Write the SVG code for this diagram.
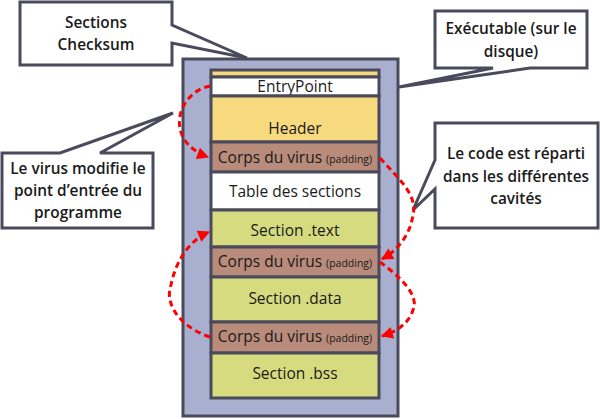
<svg xmlns="http://www.w3.org/2000/svg" width="600" height="419" viewBox="0 0 600 419">
<defs>
<style>
.frame{fill:#a8afcf;stroke:#4a4a5c;stroke-width:3}
.sec{stroke:#4a4a5c;stroke-width:3}
.yel{fill:#f8da7e}
.wht{fill:#ffffff}
.brn{fill:#b98b7a}
.grn{fill:#d6db7f}
.call{fill:#ffffff;stroke:#4a4a5c;stroke-width:3;stroke-linejoin:miter}
.t{font-family:"Open Sans","DejaVu Sans",sans-serif;font-size:15.5px;fill:#1a1a1a;text-anchor:middle}
.small{font-size:10.5px}
.ct{font-family:"Open Sans","DejaVu Sans",sans-serif;font-size:15.4px;font-weight:600;fill:#1a1a1a;text-anchor:middle}
.arr{fill:none;stroke:#ff0000;stroke-width:3;stroke-dasharray:6 4;marker-end:url(#ah)}
</style>
<marker id="ah" viewBox="0 0 10 10" refX="9" refY="5" markerWidth="4.5" markerHeight="4" orient="auto" markerUnits="strokeWidth">
<path d="M0,0 L10,5 L0,10 z" fill="#ff0000"/>
</marker>
</defs>
<g id="executable">
<rect class="frame" x="183" y="59" width="215" height="357"/>
</g>
<g id="top-strip"><rect class="sec yel" x="211" y="70" width="168" height="7"/></g>
<g id="entrypoint"><rect class="sec wht" x="211" y="77" width="168" height="19"/><text class="t" x="295" y="92">EntryPoint</text></g>
<g id="header"><rect class="sec yel" x="211" y="96" width="168" height="46"/><text class="t" x="295" y="134">Header</text></g>
<g id="corps1"><rect class="sec brn" x="211" y="142" width="168" height="30"/><text class="t" x="295" y="163">Corps du virus <tspan class="small">(padding)</tspan></text></g>
<g id="table"><rect class="sec wht" x="211" y="172" width="168" height="38"/><text class="t" x="295" y="197">Table des sections</text></g>
<g id="text-section"><rect class="sec grn" x="211" y="210" width="168" height="37"/><text class="t" x="295" y="236">Section .text</text></g>
<g id="corps2"><rect class="sec brn" x="211" y="247" width="168" height="30"/><text class="t" x="295" y="267">Corps du virus <tspan class="small">(padding)</tspan></text></g>
<g id="data-section"><rect class="sec grn" x="211" y="277" width="168" height="45"/><text class="t" x="295" y="304">Section .data</text></g>
<g id="corps3"><rect class="sec brn" x="211" y="322" width="168" height="31"/><text class="t" x="295" y="342">Corps du virus <tspan class="small">(padding)</tspan></text></g>
<g id="bss-section"><rect class="sec grn" x="211" y="353" width="168" height="45"/><text class="t" x="295" y="379">Section .bss</text></g>

<g id="callout-checksum">
<path class="call" d="M20,2 H172 V25 L247,58 L172,43 V65 H20 Z"/>
<text class="ct" x="96" y="28">Sections</text>
<text class="ct" x="96" y="50">Checksum</text>
</g>
<g id="callout-executable">
<path class="call" d="M435,11 H587 V68 H530 L399,87 L493,68 H435 Z"/>
<text class="ct" x="511" y="34">Exécutable (sur le</text>
<text class="ct" x="511" y="57">disque)</text>
</g>
<g id="callout-code">
<path class="call" d="M435,123 H598 V228 H435 V189 L413,210 L435,160 Z"/>
<text class="ct" x="516" y="159">Le code est réparti</text>
<text class="ct" x="516" y="182">dans les différentes</text>
<text class="ct" x="516" y="204">cavités</text>
</g>
<g id="callout-virus">
<path class="call" d="M2,153 H60 L173,113 L100,153 H153 V228 H2 Z"/>
<text class="ct" x="78" y="174">Le virus modifie le</text>
<text class="ct" x="78" y="196">point d’entrée du</text>
<text class="ct" x="78" y="218">programme</text>
</g>

<g id="connectors">
<path class="arr" d="M210,86 C178,92 162,140 208,157"/>
<path class="arr" d="M380,158 C398,178 418,195 413,215 C410,235 398,250 382,259"/>
<path class="arr" d="M380,262 C398,275 420,295 413,310 C408,325 395,332 382,336"/>
<path class="arr" d="M210,337 C175,325 165,300 171,285 C176,260 190,240 209,232"/>
</g>
</svg>
